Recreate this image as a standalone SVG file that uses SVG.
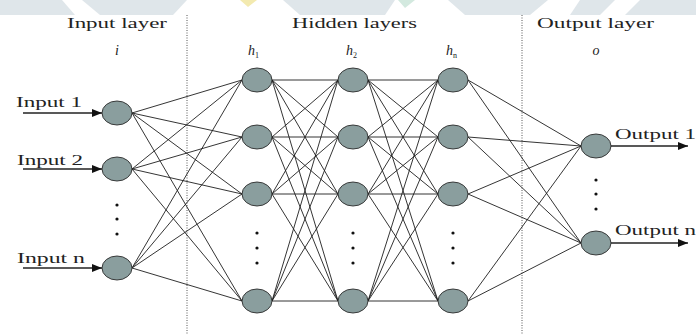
<svg xmlns="http://www.w3.org/2000/svg" width="696" height="335" viewBox="0 0 696 335">
<defs>
<style>
.wm{fill:#dfe6ea;stroke:none}
.lbl{font-family:"Liberation Serif","DejaVu Serif",serif;font-size:15px;fill:#222}
.it{font-family:"Liberation Serif","DejaVu Serif",serif;font-style:italic;font-size:14px;fill:#222}
.sub{font-size:8px;font-style:normal}
.node{fill:#8a9e9e;stroke:#2a2a2a;stroke-width:0.9}
.edge{stroke:#1e1e1e;stroke-width:0.9;fill:none}
.arr{stroke:#222;stroke-width:1.4;fill:none}
.sep{stroke:#555;stroke-width:1;stroke-dasharray:1,1.5;fill:none}
.dot{fill:#111}
</style>
<marker id="ah" viewBox="0 0 10 8" refX="10" refY="4" markerWidth="10" markerHeight="8" markerUnits="userSpaceOnUse" orient="auto">
<path d="M0,0 L10,4 L0,8 Z" fill="#111"/>
</marker>
</defs>
<rect width="696" height="335" fill="#ffffff"/>
<g id="watermark">
<polygon class="wm" points="0,0 62,0 75,15 0,15"/>
<polygon class="wm" points="82,0 187,0 173,15 100,15"/>
<polygon class="wm" points="283,0 395,0 385,15 300,15"/>
<polygon points="398,0 415,0 405,8" fill="#d3e9df"/>
<polygon points="240,0 257,0 248,7" fill="#f3eab0"/>
<polygon class="wm" points="448,0 548,0 530,15 465,15"/>
<polygon class="wm" points="580,0 615,0 600,15 570,15"/>
<polygon class="wm" points="640,0 696,0 696,15 625,15"/>
</g>
<g id="separators">
<line class="sep" x1="187" y1="15" x2="187" y2="335"/>
<line class="sep" x1="522" y1="15" x2="522" y2="335"/>
</g>
<g id="titles">
<text class="lbl" x="67" y="28" textLength="100" lengthAdjust="spacingAndGlyphs">Input layer</text>
<text class="lbl" x="292" y="28" textLength="125" lengthAdjust="spacingAndGlyphs">Hidden layers</text>
<text class="lbl" x="537" y="28" textLength="117" lengthAdjust="spacingAndGlyphs">Output layer</text>
<text class="it" x="117" y="55" text-anchor="middle">i</text>
<text class="it" x="596" y="55" text-anchor="middle">o</text>
<text class="it" x="248" y="55">h<tspan class="sub" dy="3">1</tspan></text>
<text class="it" x="346" y="55">h<tspan class="sub" dy="3">2</tspan></text>
<text class="it" x="446" y="55">h<tspan class="sub" dy="3">n</tspan></text>
</g>
<g id="connectors">
<!-- input to h1 -->
<line class="edge" x1="132" y1="113" x2="242" y2="80"/>
<line class="edge" x1="132" y1="113" x2="242" y2="137"/>
<line class="edge" x1="132" y1="113" x2="242" y2="194"/>
<line class="edge" x1="132" y1="113" x2="242" y2="301"/>
<line class="edge" x1="132" y1="169" x2="242" y2="80"/>
<line class="edge" x1="132" y1="169" x2="242" y2="137"/>
<line class="edge" x1="132" y1="169" x2="242" y2="194"/>
<line class="edge" x1="132" y1="169" x2="242" y2="301"/>
<line class="edge" x1="132" y1="268" x2="242" y2="80"/>
<line class="edge" x1="132" y1="268" x2="242" y2="137"/>
<line class="edge" x1="132" y1="268" x2="242" y2="194"/>
<line class="edge" x1="132" y1="268" x2="242" y2="301"/>
<!-- h1 to h2 -->
<line class="edge" x1="272" y1="80" x2="338" y2="80"/>
<line class="edge" x1="272" y1="80" x2="338" y2="137"/>
<line class="edge" x1="272" y1="80" x2="338" y2="194"/>
<line class="edge" x1="272" y1="80" x2="338" y2="301"/>
<line class="edge" x1="272" y1="137" x2="338" y2="80"/>
<line class="edge" x1="272" y1="137" x2="338" y2="137"/>
<line class="edge" x1="272" y1="137" x2="338" y2="194"/>
<line class="edge" x1="272" y1="137" x2="338" y2="301"/>
<line class="edge" x1="272" y1="194" x2="338" y2="80"/>
<line class="edge" x1="272" y1="194" x2="338" y2="137"/>
<line class="edge" x1="272" y1="194" x2="338" y2="194"/>
<line class="edge" x1="272" y1="194" x2="338" y2="301"/>
<line class="edge" x1="272" y1="301" x2="338" y2="80"/>
<line class="edge" x1="272" y1="301" x2="338" y2="137"/>
<line class="edge" x1="272" y1="301" x2="338" y2="194"/>
<line class="edge" x1="272" y1="301" x2="338" y2="301"/>
<!-- h2 to h3 -->
<line class="edge" x1="368" y1="80" x2="438" y2="80"/>
<line class="edge" x1="368" y1="80" x2="438" y2="137"/>
<line class="edge" x1="368" y1="80" x2="438" y2="194"/>
<line class="edge" x1="368" y1="80" x2="438" y2="301"/>
<line class="edge" x1="368" y1="137" x2="438" y2="80"/>
<line class="edge" x1="368" y1="137" x2="438" y2="137"/>
<line class="edge" x1="368" y1="137" x2="438" y2="194"/>
<line class="edge" x1="368" y1="137" x2="438" y2="301"/>
<line class="edge" x1="368" y1="194" x2="438" y2="80"/>
<line class="edge" x1="368" y1="194" x2="438" y2="137"/>
<line class="edge" x1="368" y1="194" x2="438" y2="194"/>
<line class="edge" x1="368" y1="194" x2="438" y2="301"/>
<line class="edge" x1="368" y1="301" x2="438" y2="80"/>
<line class="edge" x1="368" y1="301" x2="438" y2="137"/>
<line class="edge" x1="368" y1="301" x2="438" y2="194"/>
<line class="edge" x1="368" y1="301" x2="438" y2="301"/>
<!-- h3 to output -->
<line class="edge" x1="468" y1="80" x2="581" y2="146"/>
<line class="edge" x1="468" y1="80" x2="581" y2="243"/>
<line class="edge" x1="468" y1="137" x2="581" y2="146"/>
<line class="edge" x1="468" y1="137" x2="581" y2="243"/>
<line class="edge" x1="468" y1="194" x2="581" y2="146"/>
<line class="edge" x1="468" y1="194" x2="581" y2="243"/>
<line class="edge" x1="468" y1="301" x2="581" y2="146"/>
<line class="edge" x1="468" y1="301" x2="581" y2="243"/>
<!-- input / output arrows -->
<line class="arr" x1="23" y1="113" x2="102" y2="113" marker-end="url(#ah)"/>
<line class="arr" x1="23" y1="169" x2="102" y2="169" marker-end="url(#ah)"/>
<line class="arr" x1="23" y1="268" x2="102" y2="268" marker-end="url(#ah)"/>
<line class="arr" x1="611" y1="146" x2="688" y2="146" marker-end="url(#ah)"/>
<line class="arr" x1="611" y1="243" x2="688" y2="243" marker-end="url(#ah)"/>
</g>
<g id="input-nodes">
<g id="in1"><ellipse class="node" cx="117" cy="113" rx="15" ry="12"/><text class="lbl" x="16" y="107" textLength="66" lengthAdjust="spacingAndGlyphs">Input 1</text></g>
<g id="in2"><ellipse class="node" cx="117" cy="169" rx="15" ry="12"/><text class="lbl" x="17" y="165" textLength="66" lengthAdjust="spacingAndGlyphs">Input 2</text></g>
<g id="inn"><ellipse class="node" cx="117" cy="268" rx="15" ry="12"/><text class="lbl" x="17" y="263" textLength="68" lengthAdjust="spacingAndGlyphs">Input n</text></g>
<g id="in-dots"><circle class="dot" cx="117" cy="205" r="1.6"/><circle class="dot" cx="117" cy="219" r="1.6"/><circle class="dot" cx="117" cy="234" r="1.6"/></g>
</g>
<g id="h1-nodes">
<g id="h1a"><ellipse class="node" cx="257" cy="80" rx="15" ry="12"/></g>
<g id="h1b"><ellipse class="node" cx="257" cy="137" rx="15" ry="12"/></g>
<g id="h1c"><ellipse class="node" cx="257" cy="194" rx="15" ry="12"/></g>
<g id="h1d"><ellipse class="node" cx="257" cy="301" rx="15" ry="12"/></g>
<g id="h1-dots"><circle class="dot" cx="257" cy="233" r="1.6"/><circle class="dot" cx="257" cy="248" r="1.6"/><circle class="dot" cx="257" cy="263" r="1.6"/></g>
</g>
<g id="h2-nodes">
<g id="h2a"><ellipse class="node" cx="353" cy="80" rx="15" ry="12"/></g>
<g id="h2b"><ellipse class="node" cx="353" cy="137" rx="15" ry="12"/></g>
<g id="h2c"><ellipse class="node" cx="353" cy="194" rx="15" ry="12"/></g>
<g id="h2d"><ellipse class="node" cx="353" cy="301" rx="15" ry="12"/></g>
<g id="h2-dots"><circle class="dot" cx="353" cy="233" r="1.6"/><circle class="dot" cx="353" cy="248" r="1.6"/><circle class="dot" cx="353" cy="263" r="1.6"/></g>
</g>
<g id="h3-nodes">
<g id="h3a"><ellipse class="node" cx="453" cy="80" rx="15" ry="12"/></g>
<g id="h3b"><ellipse class="node" cx="453" cy="137" rx="15" ry="12"/></g>
<g id="h3c"><ellipse class="node" cx="453" cy="194" rx="15" ry="12"/></g>
<g id="h3d"><ellipse class="node" cx="453" cy="301" rx="15" ry="12"/></g>
<g id="h3-dots"><circle class="dot" cx="453" cy="233" r="1.6"/><circle class="dot" cx="453" cy="248" r="1.6"/><circle class="dot" cx="453" cy="263" r="1.6"/></g>
</g>
<g id="output-nodes">
<g id="out1"><ellipse class="node" cx="596" cy="146" rx="15" ry="12"/><text class="lbl" x="615" y="139" textLength="81" lengthAdjust="spacingAndGlyphs">Output 1</text></g>
<g id="outn"><ellipse class="node" cx="596" cy="243" rx="15" ry="12"/><text class="lbl" x="615" y="235" textLength="81" lengthAdjust="spacingAndGlyphs">Output n</text></g>
<g id="out-dots"><circle class="dot" cx="596" cy="180" r="1.6"/><circle class="dot" cx="596" cy="194" r="1.6"/><circle class="dot" cx="596" cy="209" r="1.6"/></g>
</g>
</svg>
